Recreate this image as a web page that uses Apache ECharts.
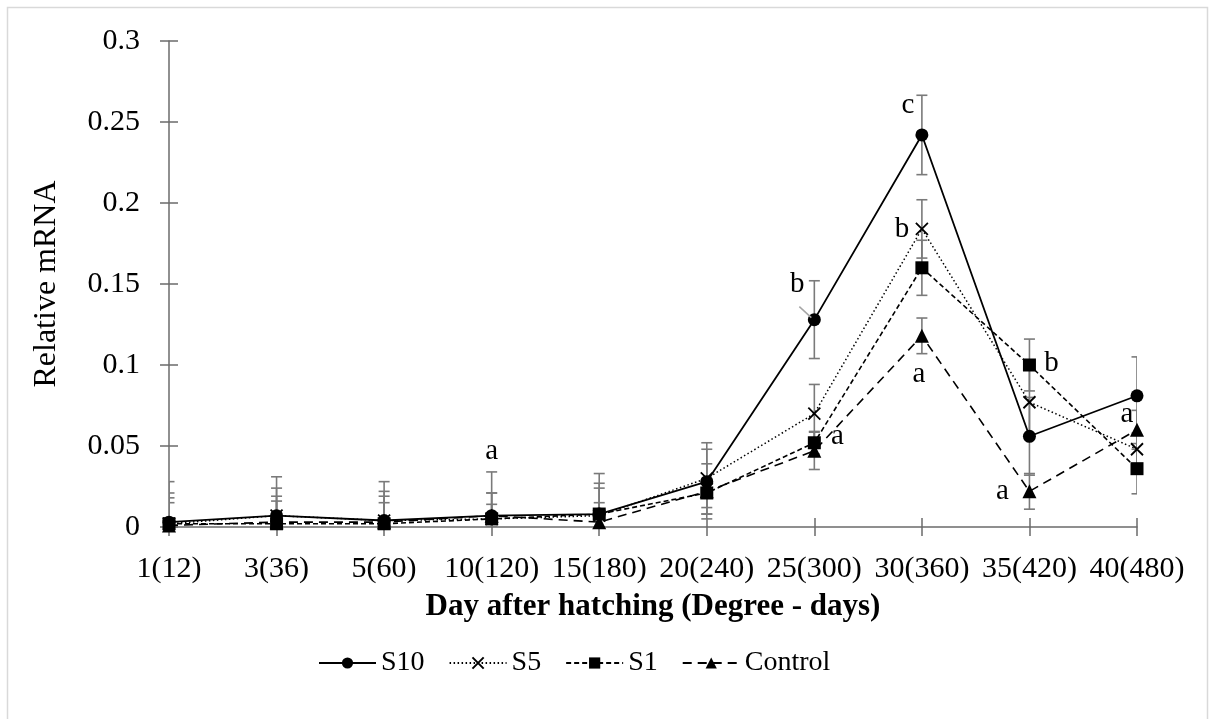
<!DOCTYPE html>
<html>
<head>
<meta charset="utf-8">
<script src="https://cdn.jsdelivr.net/npm/echarts@6/dist/echarts.min.js"></script>
<style>
  html, body { margin: 0; padding: 0; background: #fff; }
  #chart { width: 1215px; height: 719px; }
</style>
</head>
<body>
<div id="chart"></div>
<script>
// Sampling days (degree-days in brackets)
const categories = ['1(12)', '3(36)', '5(60)', '10(120)', '15(180)', '20(240)', '25(300)', '30(360)', '35(420)', '40(480)'];

// Mean relative mRNA per treatment
const s10 = [0.003, 0.007, 0.004, 0.007, 0.008, 0.028, 0.128, 0.242, 0.056, 0.081];
const s5 = [0.002, 0.007, 0.004, 0.005, 0.007, 0.030, 0.070, 0.184, 0.077, 0.048];
const s1 = [0.002, 0.002, 0.002, 0.005, 0.008, 0.021, 0.052, 0.160, 0.100, 0.036];
const control = [0.001, 0.003, 0.003, 0.007, 0.003, 0.022, 0.047, 0.118, 0.022, 0.060];

// Standard errors
const s10Err = [0.025, 0.024, 0.024, 0.027, 0.025, 0.020, 0.024, 0.0245, 0.024, 0.024];
const s5Err = [0.016, 0.017, 0.018, 0.016, 0.020, 0.022, 0.018, 0.018, 0.020, 0.010];
const s1Err = [0.019, 0.017, 0.017, 0.016, 0.016, 0.009, 0.007, 0.017, 0.016, 0.0155];
const controlErr = [0.014, 0.013, 0.012, 0.007, 0.012, 0.017, 0.0115, 0.011, 0.011, 0.012];

// Significance letters
const s10Letters = ['', '', '', 'a', '', '', 'b', 'c', '', ''];
const s5Letters = ['', '', '', '', '', '', '', 'b', '', ''];
const s1Letters = ['', '', '', '', '', '', 'a', '', 'b', ''];
const controlLetters = ['', '', '', '', '', '', '', 'a', 'a', 'a'];

const yTicks = [0, 0.05, 0.1, 0.15, 0.2, 0.25, 0.3];

// Letter placement relative to its point (px)
const letterOffsets = {
  S10: { 3: [0, -64], 6: [-17, -35], 7: [-14, -30] },
  S5: { 7: [-20, 0] },
  S1: { 6: [23, -6], 8: [22, -2] },
  Control: { 7: [-3, 39], 8: [-27, 0], 9: [-10, -15] }
};

const FONT = "'Liberation Serif', 'Times New Roman', serif";
const AXIS_COLOR = '#6b6b6b';
const ERR_COLOR = '#7a7a7a';

function withLetters(name, values, letters) {
  return values.map((v, i) => {
    if (!letters[i]) return v;
    const off = letterOffsets[name][i] || [0, -20];
    return {
      value: v,
      label: {
        show: true, formatter: letters[i], position: 'inside', offset: off,
        fontFamily: FONT, fontSize: 29, color: '#000'
      }
    };
  });
}

function errorSeries(values, errs) {
  return {
    type: 'custom',
    silent: true,
    clip: true,
    z: 1,
    encode: { x: 0, y: [1, 2] },
    data: values.map((v, i) => [i, v - errs[i], v + errs[i]]),
    renderItem: function (params, api) {
      const lo = api.coord([api.value(0), api.value(1)]);
      const hi = api.coord([api.value(0), api.value(2)]);
      const hw = 5.5;
      const style = { stroke: ERR_COLOR, lineWidth: 1.6, fill: null };
      return {
        type: 'group',
        children: [
          { type: 'line', shape: { x1: lo[0], y1: lo[1], x2: hi[0], y2: hi[1] }, style },
          { type: 'line', shape: { x1: hi[0] - hw, y1: hi[1], x2: hi[0] + hw, y2: hi[1] }, style },
          { type: 'line', shape: { x1: lo[0] - hw, y1: lo[1], x2: lo[0] + hw, y2: lo[1] }, style }
        ]
      };
    }
  };
}

// Short grey leader from the "b" letter to the S10 point at 25(300)
const leaderSeries = {
  type: 'custom', silent: true, clip: false, z: 6,
  encode: { x: 0, y: 1 },
  data: [[6, s10[6]]],
  renderItem: function (params, api) {
    const p = api.coord([api.value(0), api.value(1)]);
    return {
      type: 'line',
      shape: { x1: p[0] - 15, y1: p[1] - 13, x2: p[0] - 3, y2: p[1] - 2 },
      style: { stroke: '#a6a6a6', lineWidth: 1.5 }
    };
  }
};

const crossSymbol = 'path://M0,0L10,10M10,0L0,10';

const chart = echarts.init(document.getElementById('chart'), null, { renderer: 'canvas' });

chart.setOption({
  animation: false,
  backgroundColor: '#fff',
  textStyle: { fontFamily: FONT, color: '#000' },
  graphic: [{
    type: 'rect', silent: true,
    shape: { x: 7.5, y: 7.5, width: 1200, height: 730 },
    style: { fill: null, stroke: '#d9d9d9', lineWidth: 1.5 }
  }],
  grid: { left: 169, right: 78, top: 41, bottom: 192, containLabel: false },
  legend: {
    left: 313, top: 644,
    itemWidth: 57, itemHeight: 14, itemGap: 24,
    textStyle: { fontFamily: FONT, fontSize: 28, color: '#000' },
    data: ['S10', 'S5', 'S1', 'Control']
  },
  xAxis: [{
    type: 'category', data: categories, boundaryGap: false,
    name: 'Day after hatching (Degree - days)', nameLocation: 'middle', nameGap: 64,
    nameTextStyle: { fontFamily: FONT, fontSize: 31, fontWeight: 'bold', color: '#000' },
    axisLine: { lineStyle: { color: AXIS_COLOR, width: 1.5 } },
    axisTick: { show: true, length: 9, alignWithLabel: true, lineStyle: { color: AXIS_COLOR, width: 1.5 } },
    axisLabel: { fontFamily: FONT, fontSize: 30, color: '#000', margin: 27, interval: 0 },
    splitLine: { show: false }
  }, {
    type: 'category', data: categories, boundaryGap: false, position: 'bottom',
    axisLine: { show: false },
    axisTick: { show: true, inside: true, length: 9, lineStyle: { color: AXIS_COLOR, width: 1.5 } },
    axisLabel: { show: false }, splitLine: { show: false }
  }],
  yAxis: [{
    type: 'value', min: yTicks[0], max: yTicks[yTicks.length - 1], interval: 0.05,
    name: 'Relative mRNA', nameLocation: 'middle', nameGap: 106, nameRotate: 90,
    nameTextStyle: { fontFamily: FONT, fontSize: 32, color: '#000' },
    axisLine: { show: true, lineStyle: { color: AXIS_COLOR, width: 1.5 } },
    axisTick: { show: true, length: 9, lineStyle: { color: AXIS_COLOR, width: 1.5 } },
    axisLabel: { fontFamily: FONT, fontSize: 30, color: '#000', margin: 29,
      formatter: v => String(+v.toFixed(2)) },
    splitLine: { show: false }
  }, {
    type: 'value', min: yTicks[0], max: yTicks[yTicks.length - 1], interval: 0.05, position: 'left',
    axisLine: { show: false },
    axisTick: { show: true, inside: true, length: 9, lineStyle: { color: AXIS_COLOR, width: 1.5 } },
    axisLabel: { show: false }, splitLine: { show: false }
  }],
  series: [
    errorSeries(s10, s10Err),
    errorSeries(s5, s5Err),
    errorSeries(s1, s1Err),
    errorSeries(control, controlErr),
    leaderSeries,
    {
      name: 'S10', type: 'line', z: 5,
      data: withLetters('S10', s10, s10Letters),
      symbol: 'circle', symbolSize: 13, showAllSymbol: true,
      lineStyle: { color: '#000', width: 1.8, type: 'solid' },
      itemStyle: { color: '#000' }
    },
    {
      name: 'S5', type: 'line', z: 4,
      data: withLetters('S5', s5, s5Letters),
      symbol: crossSymbol, symbolSize: 12, showAllSymbol: true,
      lineStyle: { color: '#000', width: 1.5, type: [1.5, 2.5] },
      itemStyle: { color: '#000', borderColor: '#000', borderWidth: 1.8 }
    },
    {
      name: 'S1', type: 'line', z: 4,
      data: withLetters('S1', s1, s1Letters),
      symbol: 'rect', symbolSize: 13, showAllSymbol: true,
      lineStyle: { color: '#000', width: 1.6, type: [5, 3] },
      itemStyle: { color: '#000' }
    },
    {
      name: 'Control', type: 'line', z: 4,
      data: withLetters('Control', control, controlLetters),
      symbol: 'triangle', symbolSize: 14, showAllSymbol: true,
      lineStyle: { color: '#000', width: 1.6, type: [9, 6] },
      itemStyle: { color: '#000' }
    }
  ]
});
</script>
</body>
</html>
